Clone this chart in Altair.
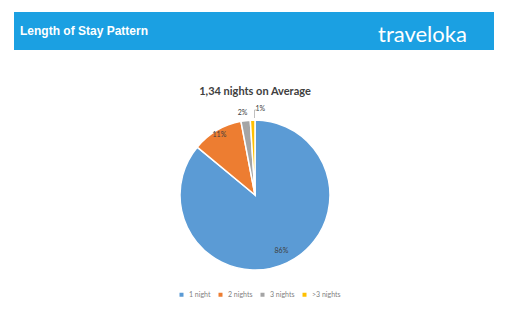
import altair as alt
import pandas as pd

categories = ["1 night", "2 nights", "3 nights", ">3 nights"]
shares = [86, 11, 2, 1]
labels = ["86%", "11%", "2%", "1%"]
colors = ["#5B9BD5", "#ED7D31", "#A5A5A5", "#FFC000"]

df = pd.DataFrame({
    "cat": categories,
    "value": shares,
    "label": labels,
    "order": list(range(len(categories))),
})

CX, CY = 255, 195

base = alt.Chart(df)

color = alt.Color(
    "cat:N",
    scale=alt.Scale(domain=categories, range=colors),
    legend=alt.Legend(
        orient="none", legendX=178, legendY=291, direction="horizontal",
        title=None, symbolType="square", symbolSize=16, symbolStrokeWidth=0,
        labelFontSize=7, labelColor="#7F7F7F", labelFont="Lato",
        columnPadding=6, symbolOffset=0, labelOffset=4,
    ),
    sort=categories,
)

theta = alt.Theta("value:Q", stack=True)
order = alt.Order("order:Q")

pie = base.mark_arc(outerRadius=75, stroke="white", strokeWidth=1.5).encode(
    theta=theta, color=color, order=order,
    x=alt.value(CX), y=alt.value(CY),
)


def label_layer(expr, radius, dx=0):
    return base.transform_calculate(
        shown=f"({expr}) ? datum.label : ''"
    ).mark_text(
        radius=radius, fontSize=7, color="#404040", font="Lato", dx=dx
    ).encode(theta=theta, order=order, text="shown:N",
             x=alt.value(CX), y=alt.value(CY))


inner86 = label_layer("datum.value == 86", 62)
inner11 = label_layer("datum.value == 11", 70)
outer2 = label_layer("datum.value == 2", 83, -2)
outer1 = label_layer("datum.value == 1", 86, 8)

one = pd.DataFrame({"a": [0]})
leader_v = alt.Chart(one).mark_rule(color="#A5A5A5", strokeWidth=0.7).encode(
    x=alt.value(254.5), y=alt.value(110), y2=alt.value(118)
)
leader_h = alt.Chart(one).mark_rule(color="#A5A5A5", strokeWidth=0.7).encode(
    x=alt.value(254.5), x2=alt.value(258), y=alt.value(110)
)

banner = alt.Chart(one).mark_rect(color="#1BA0E2").encode(
    x=alt.value(14), x2=alt.value(494), y=alt.value(12), y2=alt.value(50)
)
head = alt.Chart(pd.DataFrame({"t": ["Length of Stay Pattern"]})).mark_text(
    align="left", baseline="middle", fontSize=12, fontWeight="bold",
    color="white", font="Liberation Sans"
).encode(text="t:N", x=alt.value(20), y=alt.value(31))
logo = alt.Chart(pd.DataFrame({"t": ["traveloka"]})).mark_text(
    align="left", baseline="alphabetic", fontSize=22, color="white", font="Lato"
).encode(text="t:N", x=alt.value(378), y=alt.value(42))
title = alt.Chart(pd.DataFrame({"t": ["1,34 nights on Average"]})).mark_text(
    align="center", baseline="middle", fontSize=11, fontWeight="bold",
    color="#404040", font="Lato"
).encode(text="t:N", x=alt.value(255), y=alt.value(92))

chart = alt.layer(
    banner, head, logo, title, pie, inner86, inner11, outer2, outer1,
    leader_v, leader_h,
).properties(
    width=512, height=333, padding=0, autosize=alt.AutoSizeParams(type="none"),
    background="white",
).configure_view(stroke=None)

chart.save("out.html", embed_options={"renderer": "svg", "actions": False})
